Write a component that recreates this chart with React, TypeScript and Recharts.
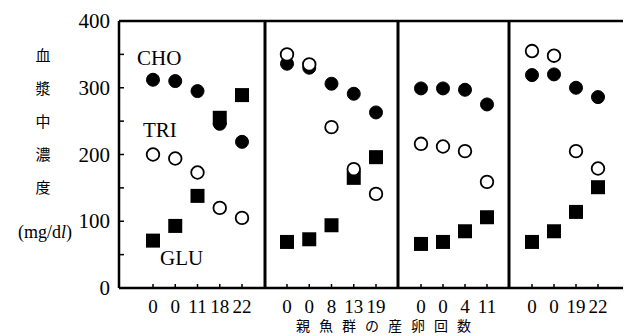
import { ComposedChart, Line, XAxis, YAxis } from 'recharts';

// 各パネルの横軸ラベル（親魚群の産卵回数）
const panel1Labels = ['0', '0', '11', '18', '22'];
const panel2Labels = ['0', '0', '8', '13', '19'];
const panel3Labels = ['0', '0', '4', '11'];
const panel4Labels = ['0', '0', '19', '22'];

// CHO（●）
const panel1Cho = [312, 310, 295, 246, 219];
const panel2Cho = [336, 330, 306, 291, 263];
const panel3Cho = [299, 299, 297, 275];
const panel4Cho = [319, 320, 300, 286];

// TRI（○）
const panel1Tri = [200, 194, 173, 120, 105];
const panel2Tri = [350, 335, 241, 178, 141];
const panel3Tri = [216, 212, 205, 159];
const panel4Tri = [355, 348, 205, 179];

// GLU（■）
const panel1Glu = [71, 93, 138, 255, 289];
const panel2Glu = [69, 73, 94, 165, 196];
const panel3Glu = [66, 69, 85, 106];
const panel4Glu = [69, 85, 114, 151];

const yTicks = [0, 50, 100, 150, 200, 250, 300, 350, 400];
const yTitleChars = ['血', '漿', '中', '濃', '度'];
const xTitleChars = ['親', '魚', '群', 'の', '産', '卵', '回', '数'];

const W = 631;
const H = 336;
const SERIF = '"Liberation Serif", "Times New Roman", serif';
const CJK = '"Noto Sans CJK JP", sans-serif';

const filledCircle = (p: any) => (
  <circle key={`c${p.index}`} cx={p.cx} cy={p.cy} r={6.5} fill="#000" stroke="#000" strokeWidth={1} />
);
const openCircle = (p: any) => (
  <circle key={`o${p.index}`} cx={p.cx} cy={p.cy} r={6.3} fill="#fff" stroke="#000" strokeWidth={1.8} />
);
const square = (p: any) => (
  <rect key={`s${p.index}`} x={p.cx - 7} y={p.cy - 7} width={14} height={14} fill="#000" />
);

const YTick = ({ x, y, payload }: any) => (
  <g>
    <rect x={x} y={y - 0.75} width={5} height={1.5} fill="#000" />
    {payload.value % 100 === 0 && (
      <text x={x - 9} y={y} dy={7} textAnchor="end" fontFamily={SERIF} fontSize={21} fill="#000">
        {payload.value}
      </text>
    )}
  </g>
);

const makeXTick = (labels: string[]) => ({ x, y, payload }: any) => (
  <g>
    <rect x={x - 0.75} y={y - 4} width={1.5} height={4} fill="#000" />
    <text x={x} y={y + 25} textAnchor="middle" fontFamily={SERIF} fontSize={19} fill="#000">
      {labels[payload.value]}
    </text>
  </g>
);

// 縦軸タイトルと系列名（第1パネルの軸ラベルとして描く）
const LeftTexts = () => (
  <g>
    {yTitleChars.map((c, k) => (
      <text key={c} x={43} y={61 + k * 33} textAnchor="middle" fontFamily={CJK} fontSize={15} fill="#000">
        {c}
      </text>
    ))}
    <text x={45} y={238} textAnchor="middle" fontFamily={SERIF} fontSize={18} fill="#000">
      (mg/d<tspan fontStyle="italic">l</tspan>)
    </text>
    <text x={137} y={65} fontFamily={SERIF} fontSize={21} fill="#000">CHO</text>
    <text x={143} y={137} fontFamily={SERIF} fontSize={21} fill="#000">TRI</text>
    <text x={160} y={265} fontFamily={SERIF} fontSize={21} fill="#000">GLU</text>
  </g>
);

// 横軸タイトル
const BottomTitle = () => (
  <g>
    {xTitleChars.map((c, k) => (
      <text key={k} x={303 + k * 23} y={331} textAnchor="middle" fontFamily={CJK} fontSize={14} fill="#000">
        {c}
      </text>
    ))}
  </g>
);

interface PanelProps {
  plotLeft: number;
  plotRight: number;
  labels: string[];
  cho: number[];
  tri: number[];
  glu: number[];
  padLeft: number;
  padRight: number;
  first?: boolean;
  last?: boolean;
}

const Panel = ({ plotLeft, plotRight, labels, cho, tri, glu, padLeft, padRight, first, last }: PanelProps) => {
  const data = labels.map((_, i) => ({ i, cho: cho[i], tri: tri[i], glu: glu[i] }));
  return (
    <div style={{ height: H, marginTop: first ? 0 : -H }}>
      <ComposedChart
        width={W}
        height={H}
        data={data}
        margin={{ top: 20, right: W - plotRight - 1, bottom: 18, left: first ? 0 : plotLeft }}
      >
        <XAxis
          dataKey="i"
          type="category"
          scale="point"
          padding={{ left: padLeft, right: padRight }}
          height={30}
          axisLine={{ stroke: '#000', strokeWidth: 2.5 }}
          tickLine={false}
          tickSize={0}
          tickMargin={0}
          tick={makeXTick(labels)}
          interval={0}
          label={last ? { content: () => <BottomTitle /> } : undefined}
        />
        <XAxis
          xAxisId="top"
          dataKey="i"
          orientation="top"
          height={1}
          tick={false}
          tickLine={false}
          axisLine={{ stroke: '#000', strokeWidth: 2.5 }}
        />
        <YAxis
          domain={[0, 400]}
          ticks={yTicks}
          hide={!first}
          width={plotLeft}
          interval={0}
          axisLine={{ stroke: '#000', strokeWidth: 2.5 }}
          tickLine={false}
          tickSize={0}
          tickMargin={0}
          tick={YTick}
          label={first ? { content: () => <LeftTexts /> } : undefined}
        />
        <YAxis
          yAxisId="r"
          orientation="right"
          domain={[0, 400]}
          width={1}
          tick={false}
          tickLine={false}
          axisLine={last ? { stroke: '#777', strokeWidth: 1 } : { stroke: '#000', strokeWidth: 3 }}
        />
        <Line dataKey="glu" stroke="none" dot={square} activeDot={false} isAnimationActive={false} />
        <Line dataKey="cho" stroke="none" dot={filledCircle} activeDot={false} isAnimationActive={false} />
        <Line dataKey="tri" stroke="none" dot={openCircle} activeDot={false} isAnimationActive={false} />
      </ComposedChart>
    </div>
  );
};

export default function App() {
  return (
    <div style={{ marginTop: -8, marginLeft: -8, width: W, height: H, background: '#fff' }}>
      <Panel plotLeft={119} plotRight={265} labels={panel1Labels} cho={panel1Cho} tri={panel1Tri} glu={panel1Glu} padLeft={34} padRight={23} first />
      <Panel plotLeft={265} plotRight={398} labels={panel2Labels} cho={panel2Cho} tri={panel2Tri} glu={panel2Glu} padLeft={22} padRight={22} />
      <Panel plotLeft={398} plotRight={509} labels={panel3Labels} cho={panel3Cho} tri={panel3Tri} glu={panel3Glu} padLeft={23} padRight={22} />
      <Panel plotLeft={509} plotRight={630} labels={panel4Labels} cho={panel4Cho} tri={panel4Tri} glu={panel4Glu} padLeft={23} padRight={32} last />
    </div>
  );
}
